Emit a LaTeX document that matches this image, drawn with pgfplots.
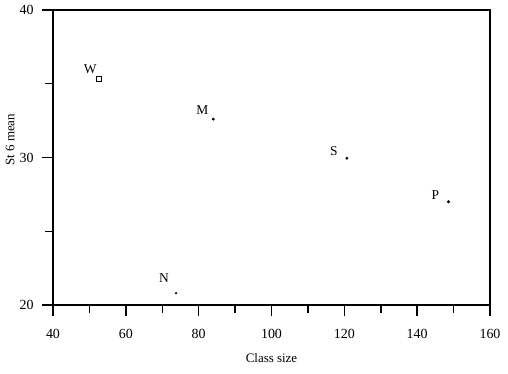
\documentclass[border=0pt]{standalone}
\usepackage{fontspec}
\setmainfont{Liberation Serif}
\usepackage{pgfplots}
\pgfplotsset{compat=1.18}
\begin{document}
\begin{tikzpicture}
\path[use as bounding box] (-53bp,-69bp) rectangle (455bp,305bp);
\begin{axis}[
  at={(0,0)}, anchor=south west,
  scale only axis, width=437bp, height=295bp,
  xmin=40, xmax=160, ymin=20, ymax=40,
  xtick={40,60,...,160}, ytick={20,30,40},
  minor xtick={50,70,...,150}, minor ytick={25,35},
  tick align=outside, tick pos=left,
  major tick length=11bp, minor tick length=8bp,
  every tick/.style={black, line width=1.5bp},
  axis line style={line width=1.5bp},
  /pgf/number format/assume math mode=true,
  ticklabel style={font=\fontsize{14}{16}\selectfont},
  xticklabel style={yshift=-10bp},
  yticklabel style={xshift=-5bp},
  label style={font=\fontsize{13}{15}\selectfont},
  xlabel={Class size}, ylabel={St 6 mean},
  xlabel style={yshift=-8bp},
  ylabel style={at={(axis description cs:-0.098,0.56)}, anchor=center, rotate=0},
  clip=false,
]
\addplot[only marks, mark=square, mark size=2.5bp, mark options={line width=1.2bp}] coordinates {(52.7,35.3)};
\addplot[only marks, mark=*, mark size=1.3bp] coordinates {(84,32.6) (120.7,29.95) (148.6,27.0)};
\addplot[only marks, mark=*, mark size=0.9bp] coordinates {(73.8,20.8)};
\node[font=\fontsize{13.5}{15}\selectfont] at ([shift={(-9bp,10bp)}]axis cs:52.7,35.3) {W};
\node[font=\fontsize{13.5}{15}\selectfont] at ([shift={(-11bp,9bp)}]axis cs:84,32.6) {M};
\node[font=\fontsize{13.5}{15}\selectfont] at ([shift={(-12bp,15bp)}]axis cs:73.8,20.8) {N};
\node[font=\fontsize{13.5}{15}\selectfont] at ([shift={(-13bp,7bp)}]axis cs:120.7,29.95) {S};
\node[font=\fontsize{13.5}{15}\selectfont] at ([shift={(-13bp,7bp)}]axis cs:148.6,27.0) {P};
\end{axis}
\end{tikzpicture}
\end{document}
